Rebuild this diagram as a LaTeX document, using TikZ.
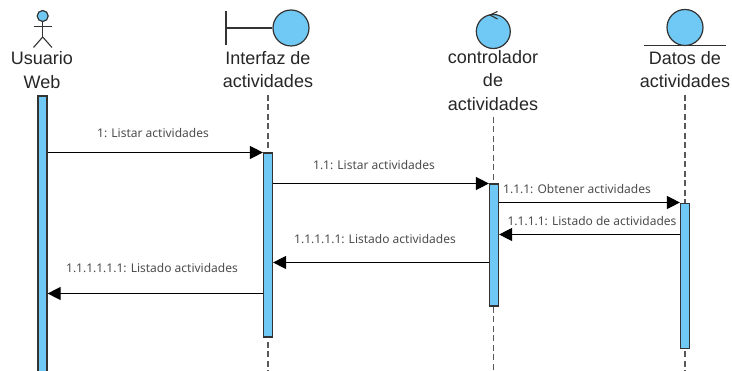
\documentclass[tikz,border=0pt]{standalone}
\usepackage{fontspec}
\setmainfont{Liberation Sans}
\newfontfamily\msgfont{Noto Sans}
\usetikzlibrary{arrows.meta}
\definecolor{lifeblue}{HTML}{6FC9F4}
\definecolor{lifeline}{HTML}{333333}
\tikzset{
  title/.style={align=center,inner sep=0pt,font=\fontsize{18}{23.5}\selectfont,text=black!85},
  bar/.style={draw=lifeline,fill=lifeblue,line width=1.2pt,minimum width=9pt,inner sep=0pt,anchor=north},
  orb/.style={circle,draw=lifeline,fill=lifeblue,line width=1.2pt,inner sep=0pt},
  msg/.style={line width=1.1pt,draw=black,-{Triangle[length=13pt,width=13pt]}},
  msgtext/.style={inner sep=0pt,text=black!70,font=\msgfont\fontsize{12}{14}\selectfont},
  life/.style={line width=1.2pt,draw=black!65,dash pattern=on 6pt off 3.5pt},
  stick/.style={line width=1.1pt,draw=lifeline}
}
\begin{document}
\begin{tikzpicture}[x=1pt,y=-1pt]
  \useasboundingbox (0,0) rectangle (732,371);
  \node[orb,minimum size=11pt] (head) at (42.7,16) {};
  \coordinate (hip) at (42.7,37);
  \coordinate (armL) at (33.5,26.5);
  \coordinate (armR) at (52,26.5);
  \coordinate (legL) at (33.5,47.5);
  \coordinate (legR) at (52,47.5);
  \draw[stick] (head) -- (hip);
  \draw[stick] (armL) -- (armR);
  \draw[stick] (legL) -- (hip) -- (legR);

  \node[orb,minimum size=36pt] (interfaz) at (291,28) {};
  \coordinate (wallT) at (226,11);
  \coordinate (wallB) at (226,45.5);
  \coordinate (wallM) at (226,28);
  \draw[stick] (wallT) -- (wallB);
  \draw[stick] (wallM) -- (interfaz);

  \node[orb,minimum size=34pt] (control) at (493.3,31.5) {};
  \coordinate (loopA) at (497.5,11.5);
  \coordinate (loopB) at (490,15);
  \coordinate (loopC) at (497.5,19);
  \draw[stick] (loopA) -- (loopB) -- (loopC);

  \node[orb,minimum size=36pt] (datos) at (685,27.5) {};
  \coordinate (floorL) at (643.5,45.5);
  \coordinate (floorR) at (726,45.5);
  \draw[stick] (floorL) -- (floorR);

  \node[title] (tUsuario) at (42,70) {Usuario\\Web};
  \node[title] (tInterfaz) at (268,69.5) {Interfaz de\\actividades};
  \node[title] (tControl) at (493,80.5) {controlador\\de\\actividades};
  \node[title] (tDatos) at (685,69.5) {Datos de\\actividades};

  \coordinate (endI) at (268,371);
  \coordinate (endC) at (493.5,371);
  \coordinate (endD) at (685,371);
  \coordinate (startI) at (268,95);
  \coordinate (startC) at (493.5,117);
  \coordinate (startD) at (685,95);
  \draw[life] (startI) -- (endI);
  \draw[life] (startC) -- (endC);
  \draw[life] (startD) -- (endD);

  \node[bar,minimum height=290pt] (barU) at (42.5,95.5) {};
  \node[bar,minimum height=184pt] (barI) at (268,152.5) {};
  \node[bar,minimum height=122pt] (barC) at (494,183.5) {};
  \node[bar,minimum height=145pt] (barD) at (685,203) {};

  \coordinate (m1) at (0,152.5);
  \coordinate (m2) at (0,183.5);
  \coordinate (m3) at (0,202.5);
  \coordinate (m4) at (0,234.5);
  \coordinate (m5) at (0,262.5);
  \coordinate (m6) at (0,293.5);
  \begin{scope}[msg]
    \draw (barU.east |- m1) to (barI.west |- m1);
    \draw (barI.east |- m2) to (barC.west |- m2);
    \draw (barC.east |- m3) to (barD.west |- m3);
    \draw (barD.west |- m4) to (barC.east |- m4);
    \draw (barC.west |- m5) to (barI.east |- m5);
    \draw (barI.west |- m6) to (barU.east |- m6);
  \end{scope}

  \node[msgtext] (l1) at (153,133.5) {1: Listar actividades};
  \node[msgtext] (l2) at (374,165.5) {1.1: Listar actividades};
  \node[msgtext] (l3) at (577,189) {1.1.1: Obtener actividades};
  \node[msgtext] (l4) at (592,221.5) {1.1.1.1: Listado de actividades};
  \node[msgtext] (l5) at (375,239.5) {1.1.1.1.1: Listado actividades};
  \node[msgtext] (l6) at (152,268.5) {1.1.1.1.1.1: Listado actividades};
\end{tikzpicture}
\end{document}
